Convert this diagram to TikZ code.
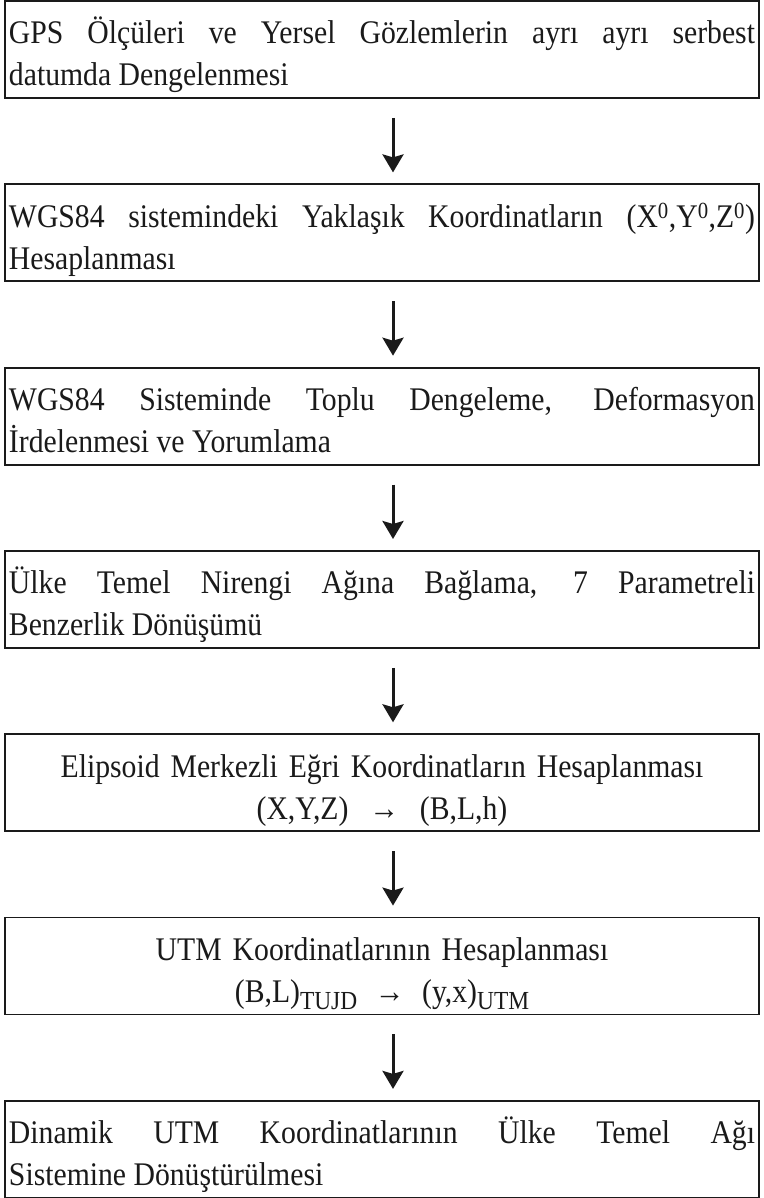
\documentclass[tikz,border=0pt]{standalone}
\usepackage{fontspec}
\setmainfont[FakeStretch=0.9]{Liberation Serif}
\usetikzlibrary{arrows.meta}
\definecolor{ink}{HTML}{1A1A1A}
\tikzset{
  stage/.style={draw=ink, line width=1.8pt, fill=white, text=ink, text width=746pt, inner xsep=4pt, inner ysep=10pt,
    text height=33pt, text depth=44pt, font=\fontsize{33}{42}\selectfont, align=justify},
  centerstage/.style={stage, align=center},
  flow/.style={-{Stealth[length=18pt,width=21pt,inset=3pt]}, line width=3pt, draw=ink, shorten <=19pt, shorten >=11pt}
}
\newcommand{\lowsub}[1]{\raisebox{-0.45ex}{\fontsize{26}{26}\selectfont #1}}

\begin{document}
\begin{tikzpicture}[x=1pt, y=1pt]
  \useasboundingbox (0,0) rectangle (763,-1198);
  \node[stage] (gps) at (382,-49.5) {GPS Ölçüleri ve Yersel Gözlemlerin ayrı ayrı serbest\linebreak datumda Dengelenmesi};
  \node[stage] (approx) at (382,-232.8) {WGS84 sistemindeki Yaklaşık Koordinatların (X\textsuperscript{0},Y\textsuperscript{0},Z\textsuperscript{0})\linebreak Hesaplanması};
  \node[stage] (adjust) at (382,-416.1) {WGS84 Sisteminde Toplu Dengeleme, Deformasyon\linebreak İrdelenmesi ve Yorumlama};
  \node[stage] (helmert) at (382,-599.4) {Ülke Temel Nirengi Ağına Bağlama, 7 Parametreli\linebreak Benzerlik Dönüşümü};
  \node[centerstage] (geodetic) at (382,-782.7) {Elipsoid Merkezli Eğri Koordinatların Hesaplanması\\(X,Y,Z) \hspace{0.3em}→\hspace{0.3em} (B,L,h)};
  \node[centerstage] (utm) at (382,-966.0) {UTM Koordinatlarının Hesaplanması\\(B,L)\lowsub{TUJD} \hspace{0.2em}→\hspace{0.2em} (y,x)\lowsub{UTM}};
  \node[stage] (national) at (382,-1149.3) {Dinamik UTM Koordinatlarının Ülke Temel Ağı\linebreak Sistemine Dönüştürülmesi};
  % arrows sit a little right of the box centre
  \draw[flow] ([xshift=11pt]gps.south) -- ([xshift=11pt]approx.north);
  \draw[flow] ([xshift=11pt]approx.south) -- ([xshift=11pt]adjust.north);
  \draw[flow] ([xshift=11pt]adjust.south) -- ([xshift=11pt]helmert.north);
  \draw[flow] ([xshift=11pt]helmert.south) -- ([xshift=11pt]geodetic.north);
  \draw[flow] ([xshift=11pt]geodetic.south) -- ([xshift=11pt]utm.north);
  \draw[flow] ([xshift=11pt]utm.south) -- ([xshift=11pt]national.north);
\end{tikzpicture}
\end{document}
